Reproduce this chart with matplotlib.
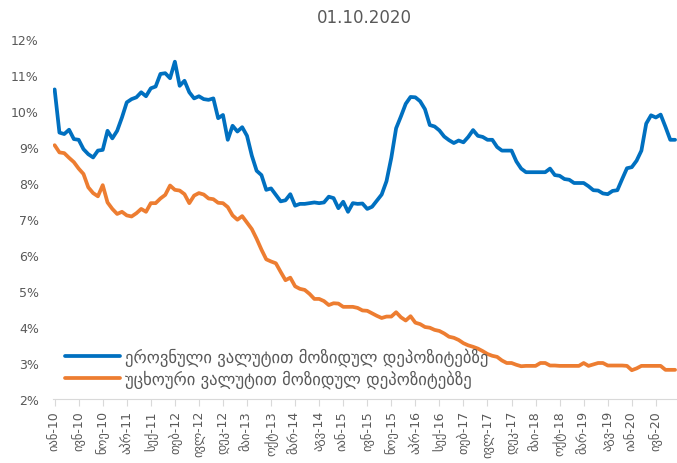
import matplotlib
matplotlib.use("Agg")
import matplotlib.pyplot as plt
from matplotlib.ticker import FuncFormatter

plt.rcParams['font.family'] = ['DejaVu Sans', 'Noto Sans']

# monthly, Jan 2010 .. Oct 2020
national = [10.6, 9.4, 9.36, 9.48, 9.22, 9.2, 8.94, 8.8, 8.71, 8.9,
            8.92, 9.45, 9.24, 9.45, 9.82, 10.24, 10.33, 10.38, 10.52, 10.41,
            10.63, 10.68, 11.03, 11.05, 10.91, 11.37, 10.7, 10.84, 10.52, 10.35,
            10.41, 10.33, 10.31, 10.35, 9.8, 9.89, 9.2, 9.59, 9.43, 9.55,
            9.31, 8.76, 8.34, 8.22, 7.81, 7.85, 7.67, 7.49, 7.52, 7.69,
            7.37, 7.42, 7.42, 7.44, 7.46, 7.44, 7.46, 7.62, 7.58, 7.3,
            7.48, 7.2, 7.44, 7.42, 7.43, 7.28, 7.34, 7.51, 7.68, 8.05,
            8.7, 9.52, 9.85, 10.2, 10.39, 10.38, 10.27, 10.05, 9.61, 9.57,
            9.46, 9.29, 9.19, 9.11, 9.18, 9.13, 9.28, 9.47, 9.31, 9.28,
            9.2, 9.2, 9.0, 8.9, 8.9, 8.9, 8.6, 8.4, 8.3, 8.3,
            8.3, 8.3, 8.3, 8.4, 8.22, 8.2, 8.11, 8.09, 8.0, 8.0,
            8.0, 7.91, 7.8, 7.79, 7.71, 7.69, 7.78, 7.8, 8.11, 8.41,
            8.44, 8.62, 8.9, 9.65, 9.88, 9.82, 9.9, 9.56, 9.2, 9.2]

foreign = [9.05, 8.85, 8.83, 8.7, 8.58, 8.4, 8.25, 7.88, 7.72, 7.63,
           7.94, 7.46, 7.28, 7.14, 7.2, 7.1, 7.07, 7.16, 7.28, 7.2,
           7.44, 7.44, 7.57, 7.67, 7.93, 7.81, 7.79, 7.69, 7.44, 7.65,
           7.72, 7.68, 7.57, 7.55, 7.45, 7.44, 7.33, 7.1, 6.98, 7.08,
           6.9, 6.72, 6.45, 6.15, 5.88, 5.82, 5.77, 5.53, 5.3, 5.37,
           5.13, 5.06, 5.03, 4.92, 4.78, 4.78, 4.72, 4.61, 4.66, 4.65,
           4.56, 4.56, 4.56, 4.53, 4.46, 4.45, 4.38, 4.31, 4.25, 4.29,
           4.29, 4.41, 4.27, 4.18, 4.3, 4.12, 4.08, 4.0, 3.98, 3.92,
           3.89, 3.82, 3.73, 3.7, 3.64, 3.55, 3.49, 3.45, 3.4, 3.33,
           3.25, 3.2, 3.17, 3.07, 3.0, 3.0, 2.95, 2.91, 2.92, 2.92,
           2.92, 3.0, 3.0, 2.93, 2.93, 2.92, 2.92, 2.92, 2.92, 2.92,
           3.0, 2.92, 2.96, 3.0, 3.0, 2.93, 2.93, 2.93, 2.93, 2.92,
           2.8, 2.85, 2.92, 2.92, 2.92, 2.92, 2.92, 2.81, 2.81, 2.81]

tick_labels = ['იან-10', 'ივნ-10', 'ნოე-10', 'აპრ-11', 'სექ-11', 'თებ-12', 'ივლ-12',
               'დეკ-12', 'მაი-13', 'ოქტ-13', 'მარ-14', 'აგვ-14', 'იან-15', 'ივნ-15',
               'ნოე-15', 'აპრ-16', 'სექ-16', 'თებ-17', 'ივლ-17', 'დეკ-17', 'მაი-18',
               'ოქტ-18', 'მარ-19', 'აგვ-19', 'იან-20', 'ივნ-20']

name_nat = 'ეროვნული ვალუტით მოზიდულ დეპოზიტებზე'
name_for = 'უცხოური ვალუტით მოზიდულ დეპოზიტებზე'
title = '01.10.2020'

grey = '#595959'
fig = plt.figure(figsize=(6.77, 4.64), dpi=100)
ax = fig.add_axes([52.7/677, 64/464, 624.3/677, 360/464])

x = range(len(national))
ax.plot(x, national, color='#0070C0', lw=2.7, label=name_nat, solid_capstyle='round')
ax.plot(x, foreign, color='#ED7D31', lw=2.7, label=name_for, solid_capstyle='round')

ax.set_xlim(-0.4, 129.4)
ax.set_ylim(2, 12)
ax.set_yticks(range(2, 13))
ax.yaxis.set_major_formatter(FuncFormatter(lambda v, p: '%d%%' % v))
ax.set_xticks(range(0, 5*len(tick_labels), 5))
ax.set_xticklabels(tick_labels, rotation=90)

for s in ['left', 'right', 'top']:
    ax.spines[s].set_visible(False)
ax.spines['bottom'].set_color('#d9d9d9')
ax.tick_params(axis='y', length=0, labelsize=9, labelcolor=grey, pad=10)
ax.tick_params(axis='x', length=5, color='#d9d9d9', labelsize=9, labelcolor=grey, pad=3)

ax.set_title(title, fontsize=12, color=grey, pad=12)

ax.legend(loc='center left', bbox_to_anchor=(0.02, 0.087), frameon=False,
          fontsize=12, handlelength=3.3, handletextpad=0.3, labelspacing=0.2,
          borderpad=0, borderaxespad=0, labelcolor=grey)

fig.savefig('out.png', dpi=100)
